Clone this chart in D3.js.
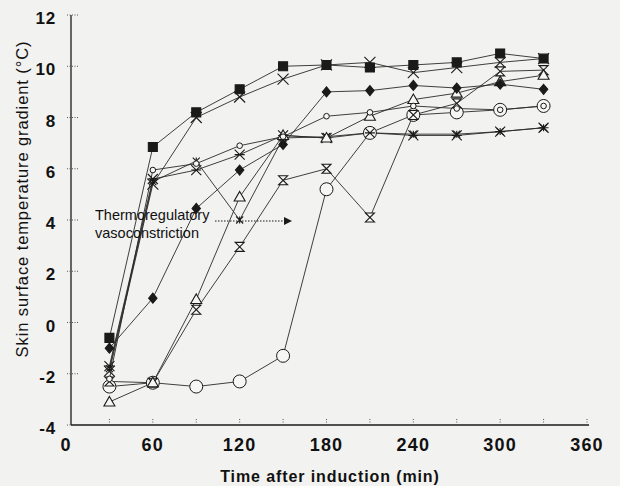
<!DOCTYPE html>
<html lang="en">
<head>
    <meta charset="UTF-8">
    <title>Skin surface temperature gradient</title>
    <script src="https://cdn.jsdelivr.net/npm/d3@7"></script>
    <style>
        body{ margin:0; background:#f2f2f0; }
        #mainsvg{ display:block; }
        text{ font-family: "Liberation Sans", Arial, sans-serif; fill:#111; }
    </style>
</head>
<body>
    <svg width="620" height="486" id="mainsvg"></svg>
    <script>
        // minutes after induction
        const times = [30, 60, 90, 120, 150, 180, 210, 240, 270, 300, 330]
        const xTicks = [0, 60, 120, 180, 240, 300, 360]
        const yTicks = [-4, -2, 0, 2, 4, 6, 8, 10, 12]

        // one patient per array
        const squareFilled = [-0.6, 6.85, 8.2, 9.1, 10.0, 10.05, 9.95, 10.05, 10.15, 10.5, 10.3]
        const cross        = [-1.9, 5.4, 8.0, 8.8, 9.5, 10.05, 10.15, 9.75, 9.95, 10.15, 10.3]
        const diamondFilled= [-1.0, 0.95, 4.45, 5.95, 6.95, 9.0, 9.05, 9.25, 9.15, 9.3, 9.1]
        const dotOpen      = [-2.2, 5.95, 6.2, 6.9, 7.25, 8.05, 8.2, 8.45, 8.35, 8.3, 8.45]
        const triangleOpen = [-3.1, -2.35, 0.9, 4.9, 7.3, 7.2, 8.05, 8.7, 8.95, 9.4, 9.65]
        const asterisk     = [-1.7, 5.6, 5.95, 6.55, 7.3, 7.2, 7.4, 7.3, 7.3, 7.45, 7.6]
        const hourglass    = [-2.3, -2.35, 0.5, 2.95, 5.55, 6.0, 4.1, 8.1, 8.55, 9.8, 9.85]
        const circleOpen   = [-2.5, -2.35, -2.5, -2.3, -1.3, 5.2, 7.4, 8.1, 8.2, 8.3, 8.45]
        const plusSmall    = [-1.8, 5.5, 6.3, 4.0, 7.2, 7.25, 7.4, 7.35, 7.35, 7.45, 7.6]

        const seriesList = [
            {values: plusSmall, marker: "plus"},
            {values: circleOpen, marker: "circle"},
            {values: hourglass, marker: "hourglass"},
            {values: asterisk, marker: "asterisk"},
            {values: triangleOpen, marker: "triangle"},
            {values: dotOpen, marker: "dot"},
            {values: diamondFilled, marker: "diamond"},
            {values: cross, marker: "cross"},
            {values: squareFilled, marker: "square"}
        ]

        let svg = d3.select('svg');
        const x = d3.scaleLinear().domain([0, 360]).range([66, 587])
        const y = d3.scaleLinear().domain([-4, 12]).range([425, 15])
        const axisX = x(0) + 5

        const ink = "#1a1a1a"

        // axes
        svg.append("line")
            .attr("x1", axisX).attr("x2", x(360) + 2)
            .attr("y1", y(-4)).attr("y2", y(-4))
            .attr("stroke", ink).attr("stroke-width", 1.3)
        svg.append("line")
            .attr("x1", axisX).attr("x2", axisX)
            .attr("y1", y(12)).attr("y2", y(-4))
            .attr("stroke", ink).attr("stroke-width", 1.3)

        // dotted ticks
        svg.append("g").selectAll("line").data(d3.range(30, 361, 30)).join("line")
            .attr("x1", d => x(d)).attr("x2", d => x(d))
            .attr("y1", y(-4)).attr("y2", y(-4) - 7)
            .attr("stroke", "#555").attr("stroke-width", 1).attr("stroke-dasharray", "1,1.5")
        svg.append("g").selectAll("line").data(yTicks).join("line")
            .attr("x1", axisX - 4).attr("x2", axisX + 7)
            .attr("y1", d => y(d)).attr("y2", d => y(d))
            .attr("stroke", "#555").attr("stroke-width", 1).attr("stroke-dasharray", "1,1.5")

        svg.append("g").selectAll("text").data(xTicks).join("text")
            .attr("x", d => x(d)).attr("y", 451)
            .attr("text-anchor", "middle")
            .attr("font-size", 18).attr("font-weight", "bold")
            .attr("letter-spacing", 1.2)
            .text(d => d)
        svg.append("g").selectAll("text").data(yTicks).join("text")
            .attr("x", 56).attr("y", d => y(d) + 9)
            .attr("text-anchor", "end")
            .attr("font-size", 17).attr("font-weight", "bold")
            .attr("letter-spacing", 0.8)
            .text(d => d)

        svg.append("text")
            .attr("x", 330).attr("y", 482)
            .attr("text-anchor", "middle")
            .attr("font-size", 16).attr("font-weight", "bold")
            .attr("letter-spacing", 0.9)
            .text("Time after induction (min)")
        svg.append("text")
            .attr("transform", "translate(28,199) rotate(-90)")
            .attr("text-anchor", "middle")
            .attr("font-size", 16.5)
            .attr("letter-spacing", 0.9)
            .text("Skin surface temperature gradient (°C)")

        // lines
        const line = d3.line().x((d, i) => x(times[i])).y(d => y(d))
        svg.append("g").selectAll("path").data(seriesList).join("path")
            .attr("d", d => line(d.values))
            .attr("fill", "none")
            .attr("stroke", "#2a2a2a")
            .attr("stroke-width", 0.9)

        // markers
        const shapes = {
            square: s => `M${-s},${-s}H${s}V${s}H${-s}Z`,
            diamond: s => `M0,${-s * 1.2}L${s},0L0,${s * 1.2}L${-s},0Z`,
            triangle: s => `M0,${-s * 1.1}L${s * 1.1},${s * 0.8}L${-s * 1.1},${s * 0.8}Z`,
            hourglass: s => `M${-s},${-s}H${s}L${-s},${s}H${s}Z`,
            cross: s => `M${-s},${-s}L${s},${s}M${-s},${s}L${s},${-s}`,
            plus: s => `M${-s},${-s}L${s},${s}M${-s},${s}L${s},${-s}M0,${-s}V${s}`,
            asterisk: s => `M${-s},${-s}L${s},${s}M${-s},${s}L${s},${-s}M${-s},0H${s}`
        }
        const style = {
            square: {size: 4.5, fill: ink},
            diamond: {size: 4.2, fill: ink},
            triangle: {size: 5, fill: "#f6f6f4"},
            hourglass: {size: 4.5, fill: "#f6f6f4"},
            cross: {size: 5.5, fill: "none"},
            plus: {size: 3.5, fill: "none"},
            asterisk: {size: 5, fill: "none"}
        }

        seriesList.forEach(s => {
            const g = svg.append("g")
            const pts = s.values.map((v, i) => [x(times[i]), y(v)])
            if (s.marker === "circle" || s.marker === "dot") {
                g.selectAll("circle").data(pts).join("circle")
                    .attr("cx", d => d[0]).attr("cy", d => d[1])
                    .attr("r", s.marker === "circle" ? 6.5 : 2.8)
                    .attr("fill", "#f6f6f4")
                    .attr("stroke", ink).attr("stroke-width", 1)
            } else {
                const st = style[s.marker]
                g.selectAll("path").data(pts).join("path")
                    .attr("transform", d => `translate(${d[0]},${d[1]})`)
                    .attr("d", shapes[s.marker](st.size))
                    .attr("fill", st.fill)
                    .attr("stroke", ink).attr("stroke-width", 1.1)
            }
        })

        // annotation
        svg.append("text").attr("x", 95).attr("y", 220)
            .attr("font-size", 14.5).text("Thermoregulatory")
        svg.append("text").attr("x", 95).attr("y", 238)
            .attr("font-size", 14.5).text("vasoconstriction")
        svg.append("line")
            .attr("x1", 215).attr("x2", 284).attr("y1", 221).attr("y2", 221)
            .attr("stroke", ink).attr("stroke-width", 1).attr("stroke-dasharray", "1.5,1.5")
        svg.append("path")
            .attr("d", "M284,217L292,221L284,225Z")
            .attr("fill", ink)
    </script>
</body>
</html>
